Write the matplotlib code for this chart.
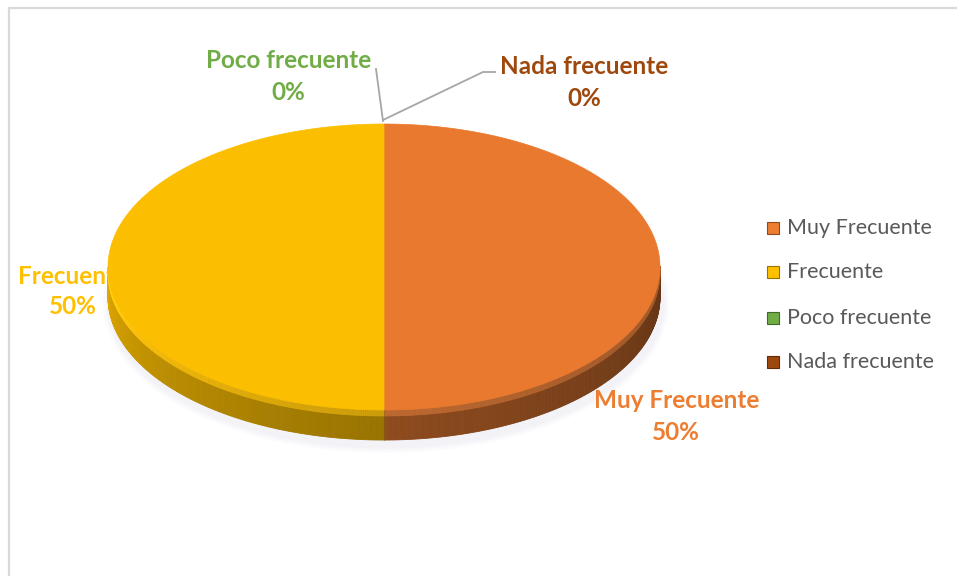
import numpy as np
import matplotlib
matplotlib.use("Agg")
import matplotlib.pyplot as plt
from matplotlib.patches import Polygon, Rectangle, Ellipse
from matplotlib.colors import to_rgb

# ---- data ----
categories = ["Muy Frecuente", "Frecuente", "Poco frecuente", "Nada frecuente"]
values = [50, 50, 0, 0]
pct_labels = ["50%", "50%", "0%", "0%"]
colors = ["#ED7D31", "#FFC000", "#70AD47", "#9E480E"]
top_colors = ["#E9792F", "#FBBE00", "#70AD47", "#9E480E"]

plt.rcParams['font.family'] = ['Lato', 'DejaVu Sans']

W, H = 957, 576
fig = plt.figure(figsize=(W / 100, H / 100), dpi=100)
ax = fig.add_axes([0, 0, 1, 1])
ax.set_xlim(0, W)
ax.set_ylim(H, 0)
ax.axis("off")

# chart border (top + left visible)
ax.plot([9, 9, W + 5], [H + 5, 7.5, 7.5], color="#D9D9D9", lw=1.6, zorder=1,
        solid_capstyle="butt")

# pie geometry (pixel space)
cx, cy, rx, ry, depth = 384, 267, 276, 143, 30


def pt(th_deg, dz=0.0):
    th = np.radians(th_deg)
    return cx + rx * np.cos(th), cy - ry * np.sin(th) + dz


# wedge angles: start at 12 o'clock, clockwise
total = float(sum(values))
angles = []
a = 90.0
for v in values:
    span = 360.0 * v / total
    angles.append((a, a - span))
    a -= span

# soft shadow under the pie
for grow, alpha in [(14, 0.05), (9, 0.06), (5, 0.07)]:
    ax.add_patch(Ellipse((cx + 2, cy + depth + 6), 2 * rx + grow, 2 * ry + grow,
                         facecolor="#B8B8D8", edgecolor="none", alpha=alpha, zorder=3))


def shade(th):
    # th in [-180, 0] (front half); lighter on the left, darker on the right
    t = np.clip((th + 180.0) / 180.0, 0, 1)
    return 0.93 - 0.5 * t ** 0.6


# side walls
for (a0, a1), col, v in zip(angles, colors, values):
    if v <= 0:
        continue
    ths = np.linspace(a1, a0, 400)
    base = np.array(to_rgb(col))
    for t0, t1 in zip(ths[:-1], ths[1:]):
        tm = 0.5 * (t0 + t1)
        tmn = ((tm + 180) % 360) - 180
        if np.sin(np.radians(tm)) > 0:
            continue
        s = shade(tmn)
        p0, p1 = pt(t0), pt(t1)
        q0, q1 = pt(t0, depth), pt(t1, depth)
        c = np.clip(base * s, 0, 1)
        ax.add_patch(Polygon([p0, p1, q1, q0], closed=True, facecolor=c,
                             edgecolor=c, lw=0.6, zorder=5))
        # bevel highlight near the top of the wall
        b0, b1 = pt(t0, 6), pt(t1, 6)
        hc = np.clip(base * min(1.0, s + 0.18) + 0.05, 0, 1)
        ax.add_patch(Polygon([p0, p1, b1, b0], closed=True, facecolor=hc,
                             edgecolor=hc, lw=0.5, zorder=5.5, alpha=0.8))

# top faces
for (a0, a1), col, v in zip(angles, top_colors, values):
    if v <= 0:
        continue
    ths = np.linspace(a0, a1, 300)
    pts = [(cx, cy)] + [pt(t) for t in ths]
    ax.add_patch(Polygon(pts, closed=True, facecolor=col, edgecolor=col,
                         lw=0.5, zorder=6))

# divider on the front wall
ax.plot([cx, cx], [cy + ry, cy + ry + depth], color="#7A5A10", lw=0.6, alpha=0.5, zorder=6.5)

# data labels
fs_lab = 17.5
top_pt = pt(90)
label_pos = {
    "Muy Frecuente": ((677, 401), (676, 433)),
    "Frecuente": ((73, 276), (73, 306)),
    "Poco frecuente": ((289, 60), (288, 92)),
    "Nada frecuente": ((584, 66), (584, 98)),
}
label_colors = {"Muy Frecuente": "#ED7D31", "Frecuente": "#FFC000",
                "Poco frecuente": "#70AD47", "Nada frecuente": "#9E480E"}
for cat, pl in zip(categories, pct_labels):
    (x1, y1), (x2, y2) = label_pos[cat]
    z = 4 if cat == "Frecuente" else 8
    ax.text(x1, y1, cat, ha="center", va="center", fontsize=fs_lab,
            fontweight="bold", color=label_colors[cat], zorder=z)
    ax.text(x2, y2, pl, ha="center", va="center", fontsize=fs_lab,
            fontweight="bold", color=label_colors[cat], zorder=z)

# leader lines for the 0% slices
lc = "#A6A6A6"
ax.plot([376, top_pt[0] - 1], [69, top_pt[1] - 3], color=lc, lw=1.3, zorder=7)
ax.plot([495, 483, top_pt[0] - 1], [72, 72, top_pt[1] - 4], color=lc, lw=1.3, zorder=7)

# legend
leg_y = [228, 272, 318, 362]
for cat, col, y in zip(categories, colors, leg_y):
    base = np.array(to_rgb(col))
    ax.add_patch(Rectangle((767, y - 6), 12, 12, facecolor=col,
                           edgecolor=np.clip(base * 0.6, 0, 1), lw=0.8, zorder=8))
    ax.text(787, y, cat, ha="left", va="center", fontsize=15.5,
            color="#595959", zorder=8)

fig.savefig("out.png", dpi=100)
